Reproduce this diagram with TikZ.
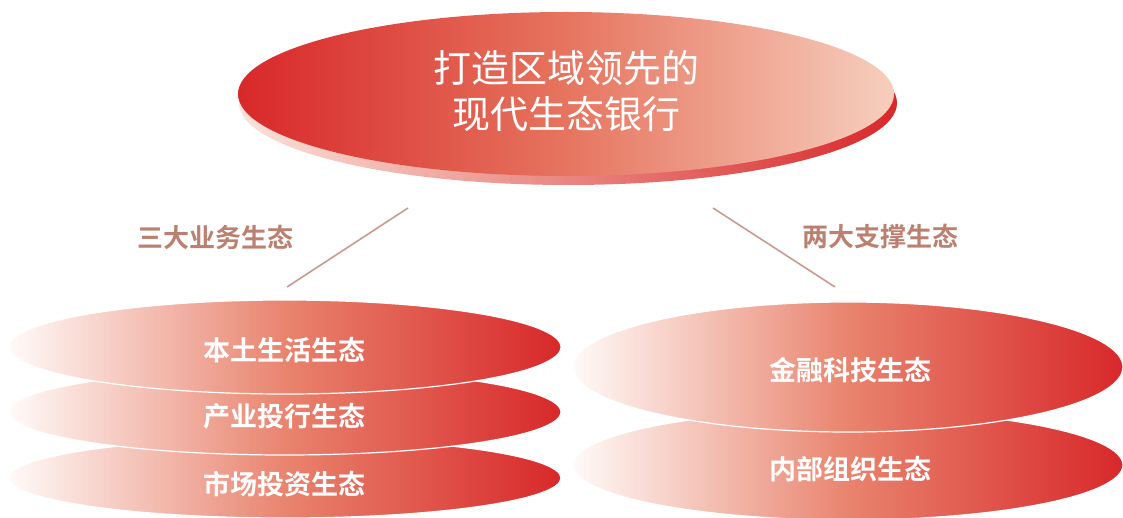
\documentclass[tikz,border=0pt]{standalone}
\usepackage{fontspec}
\newfontfamily\cjk{Noto Sans CJK SC}
\newfontfamily\cjkb{Noto Sans CJK SC Bold}
\definecolor{deepred}{HTML}{D8282A}
\definecolor{midred}{HTML}{E2604A}
\definecolor{palepink}{HTML}{F5C6B2}
\definecolor{fadewhite}{HTML}{FFFAF8}
\definecolor{linebrown}{HTML}{C99A8E}
\definecolor{labeltan}{HTML}{BC8070}
\tikzset{
  toptext/.style={text=white, font=\cjk\fontsize{38}{46}\selectfont, align=center},
  itemtext/.style={text=white, font=\cjkb\fontsize{27}{30}\selectfont},
  grouplabel/.style={text=labeltan, font=\cjkb\fontsize{26}{30}\selectfont},
  link/.style={draw=linebrown, line width=1.6pt},
  discshade/.style={left color=fadewhite, right color=deepred, middle color=midred!65!palepink},
}
\begin{document}
\begin{tikzpicture}[x=1pt,y=-1pt]
\useasboundingbox (0,0) rectangle (1123,518);
% top disc: rim then face
\shade[left color=palepink!50!white, right color=deepred] (568,103) ellipse [x radius=329, y radius=82];
\shade[left color=deepred, right color=palepink!85!white, middle color=midred!80!palepink] (566,94) ellipse [x radius=328, y radius=82];
\node[toptext] (top) at (566,91) {打造区域领先的\\现代生态银行};
% left stack (bottom first)
\shade[discshade] (285,478) ellipse [x radius=276, y radius=40];
\draw[white, line width=1.2pt] (285,478) ellipse [x radius=276, y radius=40];
\shade[discshade] (285,412) ellipse [x radius=276, y radius=43];
\draw[white, line width=1.2pt] (285,412) ellipse [x radius=276, y radius=43];
\shade[discshade] (285,347) ellipse [x radius=276, y radius=47];
\draw[white, line width=1.2pt] (285,347) ellipse [x radius=276, y radius=47];
\node[itemtext] (l1) at (284,350) {本土生活生态};
\node[itemtext] (l2) at (284,416) {产业投行生态};
\node[itemtext] (l3) at (284,484) {市场投资生态};
% right stack
\shade[discshade] (848,465) ellipse [x radius=275, y radius=55];
\draw[white, line width=1.2pt] (848,465) ellipse [x radius=275, y radius=55];
\shade[discshade] (848,367) ellipse [x radius=275, y radius=65];
\draw[white, line width=1.2pt] (848,367) ellipse [x radius=275, y radius=65];
\node[itemtext] (r1) at (850,370) {金融科技生态};
\node[itemtext] (r2) at (850,469) {内部组织生态};
% connectors
\coordinate (la) at (408,208);
\coordinate (lb) at (287,287);
\coordinate (ra) at (713,208);
\coordinate (rb) at (835,287);
\draw[link] (la) -- (lb);
\draw[link] (ra) -- (rb);
\node[grouplabel] (gl) at (215,237) {三大业务生态};
\node[grouplabel] (gr) at (880,237) {两大支撑生态};
\end{tikzpicture}
\end{document}
